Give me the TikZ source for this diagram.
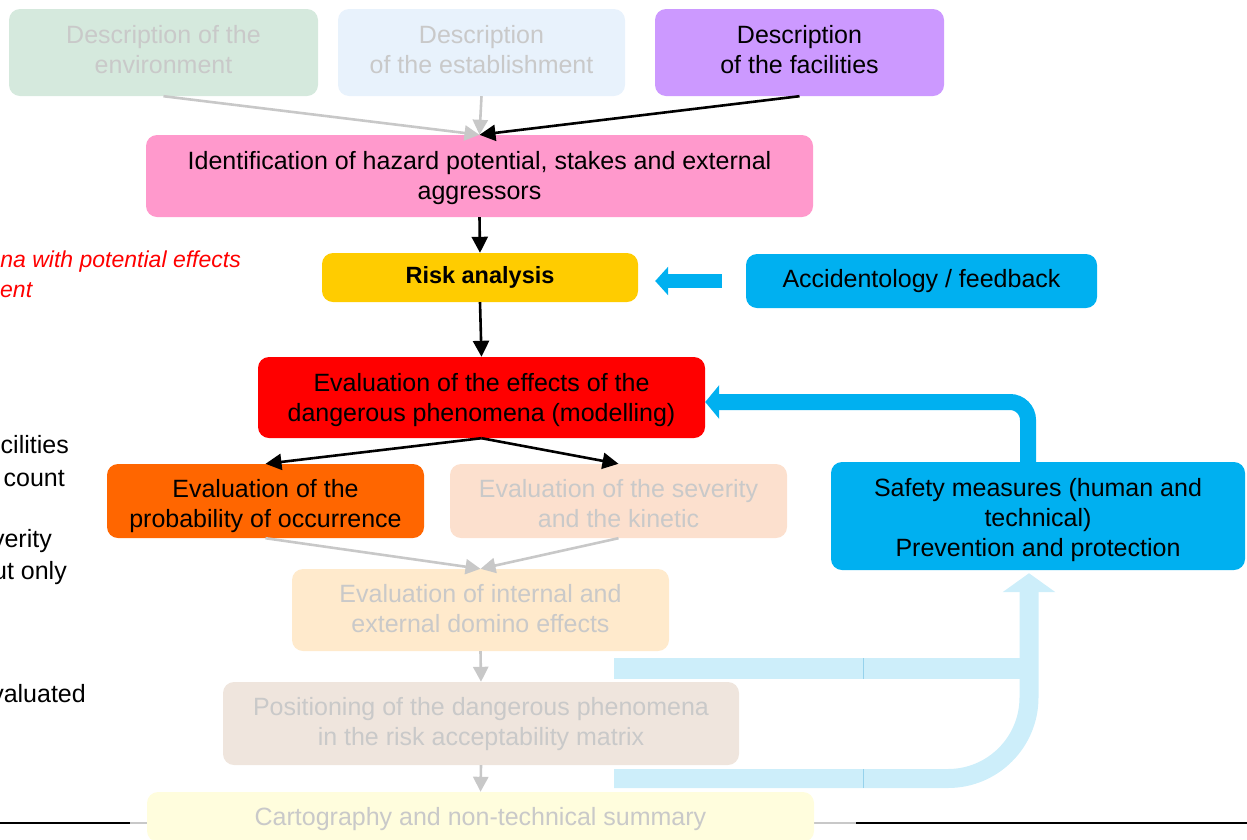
\documentclass[tikz,border=0pt]{standalone}
\usepackage{fontspec}
\setmainfont{Liberation Sans}
\usetikzlibrary{arrows.meta,calc}
\definecolor{envc}{RGB}{213,233,221}
\definecolor{estc}{RGB}{232,242,252}
\definecolor{facc}{RGB}{204,153,255}
\definecolor{idc}{RGB}{255,153,204}
\definecolor{riskc}{RGB}{255,204,0}
\definecolor{accblue}{RGB}{0,176,240}
\definecolor{evalc}{RGB}{255,0,0}
\definecolor{probc}{RGB}{255,102,0}
\definecolor{sevc}{RGB}{252,224,206}
\definecolor{domc}{RGB}{255,234,204}
\definecolor{posc}{RGB}{239,229,221}
\definecolor{cartc}{RGB}{255,253,221}
\definecolor{fadetext}{RGB}{201,201,201}
\definecolor{fadegray}{RGB}{200,200,200}
\definecolor{lightblue}{RGB}{205,238,250}
\definecolor{seamc}{RGB}{150,210,236}
\begin{document}
\begin{tikzpicture}[x=1pt,y=-1pt,
  box/.style={rectangle, rounded corners=11pt, inner sep=0pt},
  txt/.style={inner sep=0pt, align=center, font=\fontsize{25}{30}\selectfont},
  faded/.style={text=fadetext},
  blk/.style={draw=black, line width=2.6pt, -{Triangle[length=16pt,width=16pt]}},
  gry/.style={draw=fadegray, line width=2.6pt, -{Triangle[length=15pt,width=15pt]}},
  sidetxt/.style={anchor=east, inner sep=0pt, font=\fontsize{25}{30}\selectfont},
  redtxt/.style={inner sep=0pt, text=red, font=\fontsize{23}{28}\selectfont\itshape}]
\useasboundingbox (0,0) rectangle (1247,839);

% bottom rule
\draw[line width=2.5pt, black] (0,823) -- (1247,823);
\draw[line width=2.5pt, fadegray] (130,823) -- (856,823);

% left partial texts
\node[redtxt, anchor=east] (lt1) at (241,262) {na with potential effects};
\node[redtxt, anchor=west] (lt2) at (0,290) {ent};
\node[sidetxt] (s1) at (69,445) {cilities};
\node[sidetxt] (s2) at (65,479) {count};
\node[sidetxt] (s3) at (52,541) {verity};
\node[sidetxt] (s4) at (67,573) {ut only};
\node[sidetxt] (s5) at (86,694) {valuated};

% boxes
\node[box, fill=envc, minimum width=309pt, minimum height=87pt] (env) at (163.5,52.5) {};
\node[txt, faded] (envt) at ($(env)+(0,-3)$) {Description of the\\environment};
\node[box, fill=estc, minimum width=287pt, minimum height=87pt] (est) at (481.5,52.5) {};
\node[txt, faded] (estt) at ($(est)+(0,-3)$) {Description\\of the establishment};
\node[box, fill=facc, minimum width=289pt, minimum height=87pt] (fac) at (799.5,52.5) {};
\node[txt] (fact) at ($(fac)+(0,-3)$) {Description\\of the facilities};
\node[box, fill=idc, minimum width=667pt, minimum height=82pt] (ident) at (479.5,176) {};
\node[txt] (identt) at ($(ident)+(0,2)$) {Identification of hazard potential, stakes and external\\aggressors};
\node[box, fill=riskc, minimum width=316pt, minimum height=49pt] (risk) at (480,277.5) {};
\node[txt, font=\fontsize{23.5}{28}\selectfont\bfseries] (riskt) at (risk) {Risk analysis};
\node[box, fill=accblue, minimum width=351pt, minimum height=54pt] (acc) at (921.5,281) {};
\node[txt] (acct) at (acc) {Accidentology / feedback};
\node[box, fill=evalc, minimum width=447pt, minimum height=81pt] (eval) at (481.5,397.5) {};
\node[txt] (evalt) at ($(eval)+(0,3)$) {Evaluation of the effects of the\\dangerous phenomena (modelling)};
\node[box, fill=probc, minimum width=317pt, minimum height=74pt] (prob) at (265.5,501) {};
\node[txt] (probt) at ($(prob)+(0,5)$) {Evaluation of the\\probability of occurrence};
\node[box, fill=sevc, minimum width=337pt, minimum height=74pt] (sev) at (618.5,501) {};
\node[txt, faded] (sevt) at ($(sev)+(0,3)$) {Evaluation of the severity\\and the kinetic};
\node[box, fill=domc, minimum width=377pt, minimum height=82pt] (dom) at (480.5,610) {};
\node[txt, faded] (domt) at ($(dom)+(0,-1)$) {Evaluation of internal and\\external domino effects};
\node[box, fill=posc, minimum width=516pt, minimum height=83pt] (pos) at (481,723.5) {};
\node[txt, faded] (post) at ($(pos)+(0,1)$) {Positioning of the dangerous phenomena\\in the risk acceptability matrix};
\node[box, fill=cartc, minimum width=667pt, minimum height=50pt] (cart) at (480.5,817) {};
\node[txt, faded] (cartt) at ($(cart)+(0,2)$) {Cartography and non-technical summary};
\node[box, fill=accblue, minimum width=414pt, minimum height=108pt] (safety) at (1038,516) {};
\node[txt] (safetyt) at ($(safety)+(0,4)$) {Safety measures (human and\\technical)\\Prevention and protection};

% connectors
\draw[gry] (env.south) -- (ident.north);
\draw[gry] (est.south) -- (ident.north);
\draw[blk] (fac.south) -- (ident.north);
\draw[blk] (ident.south) -- (risk.north);
\draw[blk] (risk.south) -- (eval.north);
\draw[blk] (eval.south) -- (prob.north);
\draw[blk] (eval.south) -- (sev.north);
\draw[gry] (prob.south) -- (dom.north);
\draw[gry] (sev.south) -- (dom.north);
\draw[gry] (dom.south) -- (pos.north);
\draw[gry] (pos.south) -- (cart.north);

% feedback arrow accidentology -> risk
\draw[line width=14pt, accblue, -{Triangle[length=13pt,width=28pt]}]
  ([xshift=-24pt]acc.west) -- ($(risk.east |- acc.west)+(17,0)$);

% feedback arrow safety -> eval
\draw[line width=16pt, accblue, rounded corners=18pt, -{Triangle[length=14pt,width=33pt]}]
  ([xshift=-10pt]safety.north) |- ([yshift=-4.5pt]eval.east);

% light blue return arrow
\coordinate (lbtop) at (614,668.5);
\coordinate (lbbot) at (614,778.5);
\fill[lightblue] (lbtop) ++(0,-10.5) rectangle (1036,679);
\draw[line width=19pt, lightblue, rounded corners=81pt, -{Triangle[length=19pt,width=52pt]}]
  (lbbot) -| ([xshift=-9pt,yshift=-3pt]safety.south);
\draw[seamc, line width=0.7pt] (863,658) -- (863,679);
\draw[seamc, line width=0.7pt] (863,769) -- (863,788);
\end{tikzpicture}
\end{document}
